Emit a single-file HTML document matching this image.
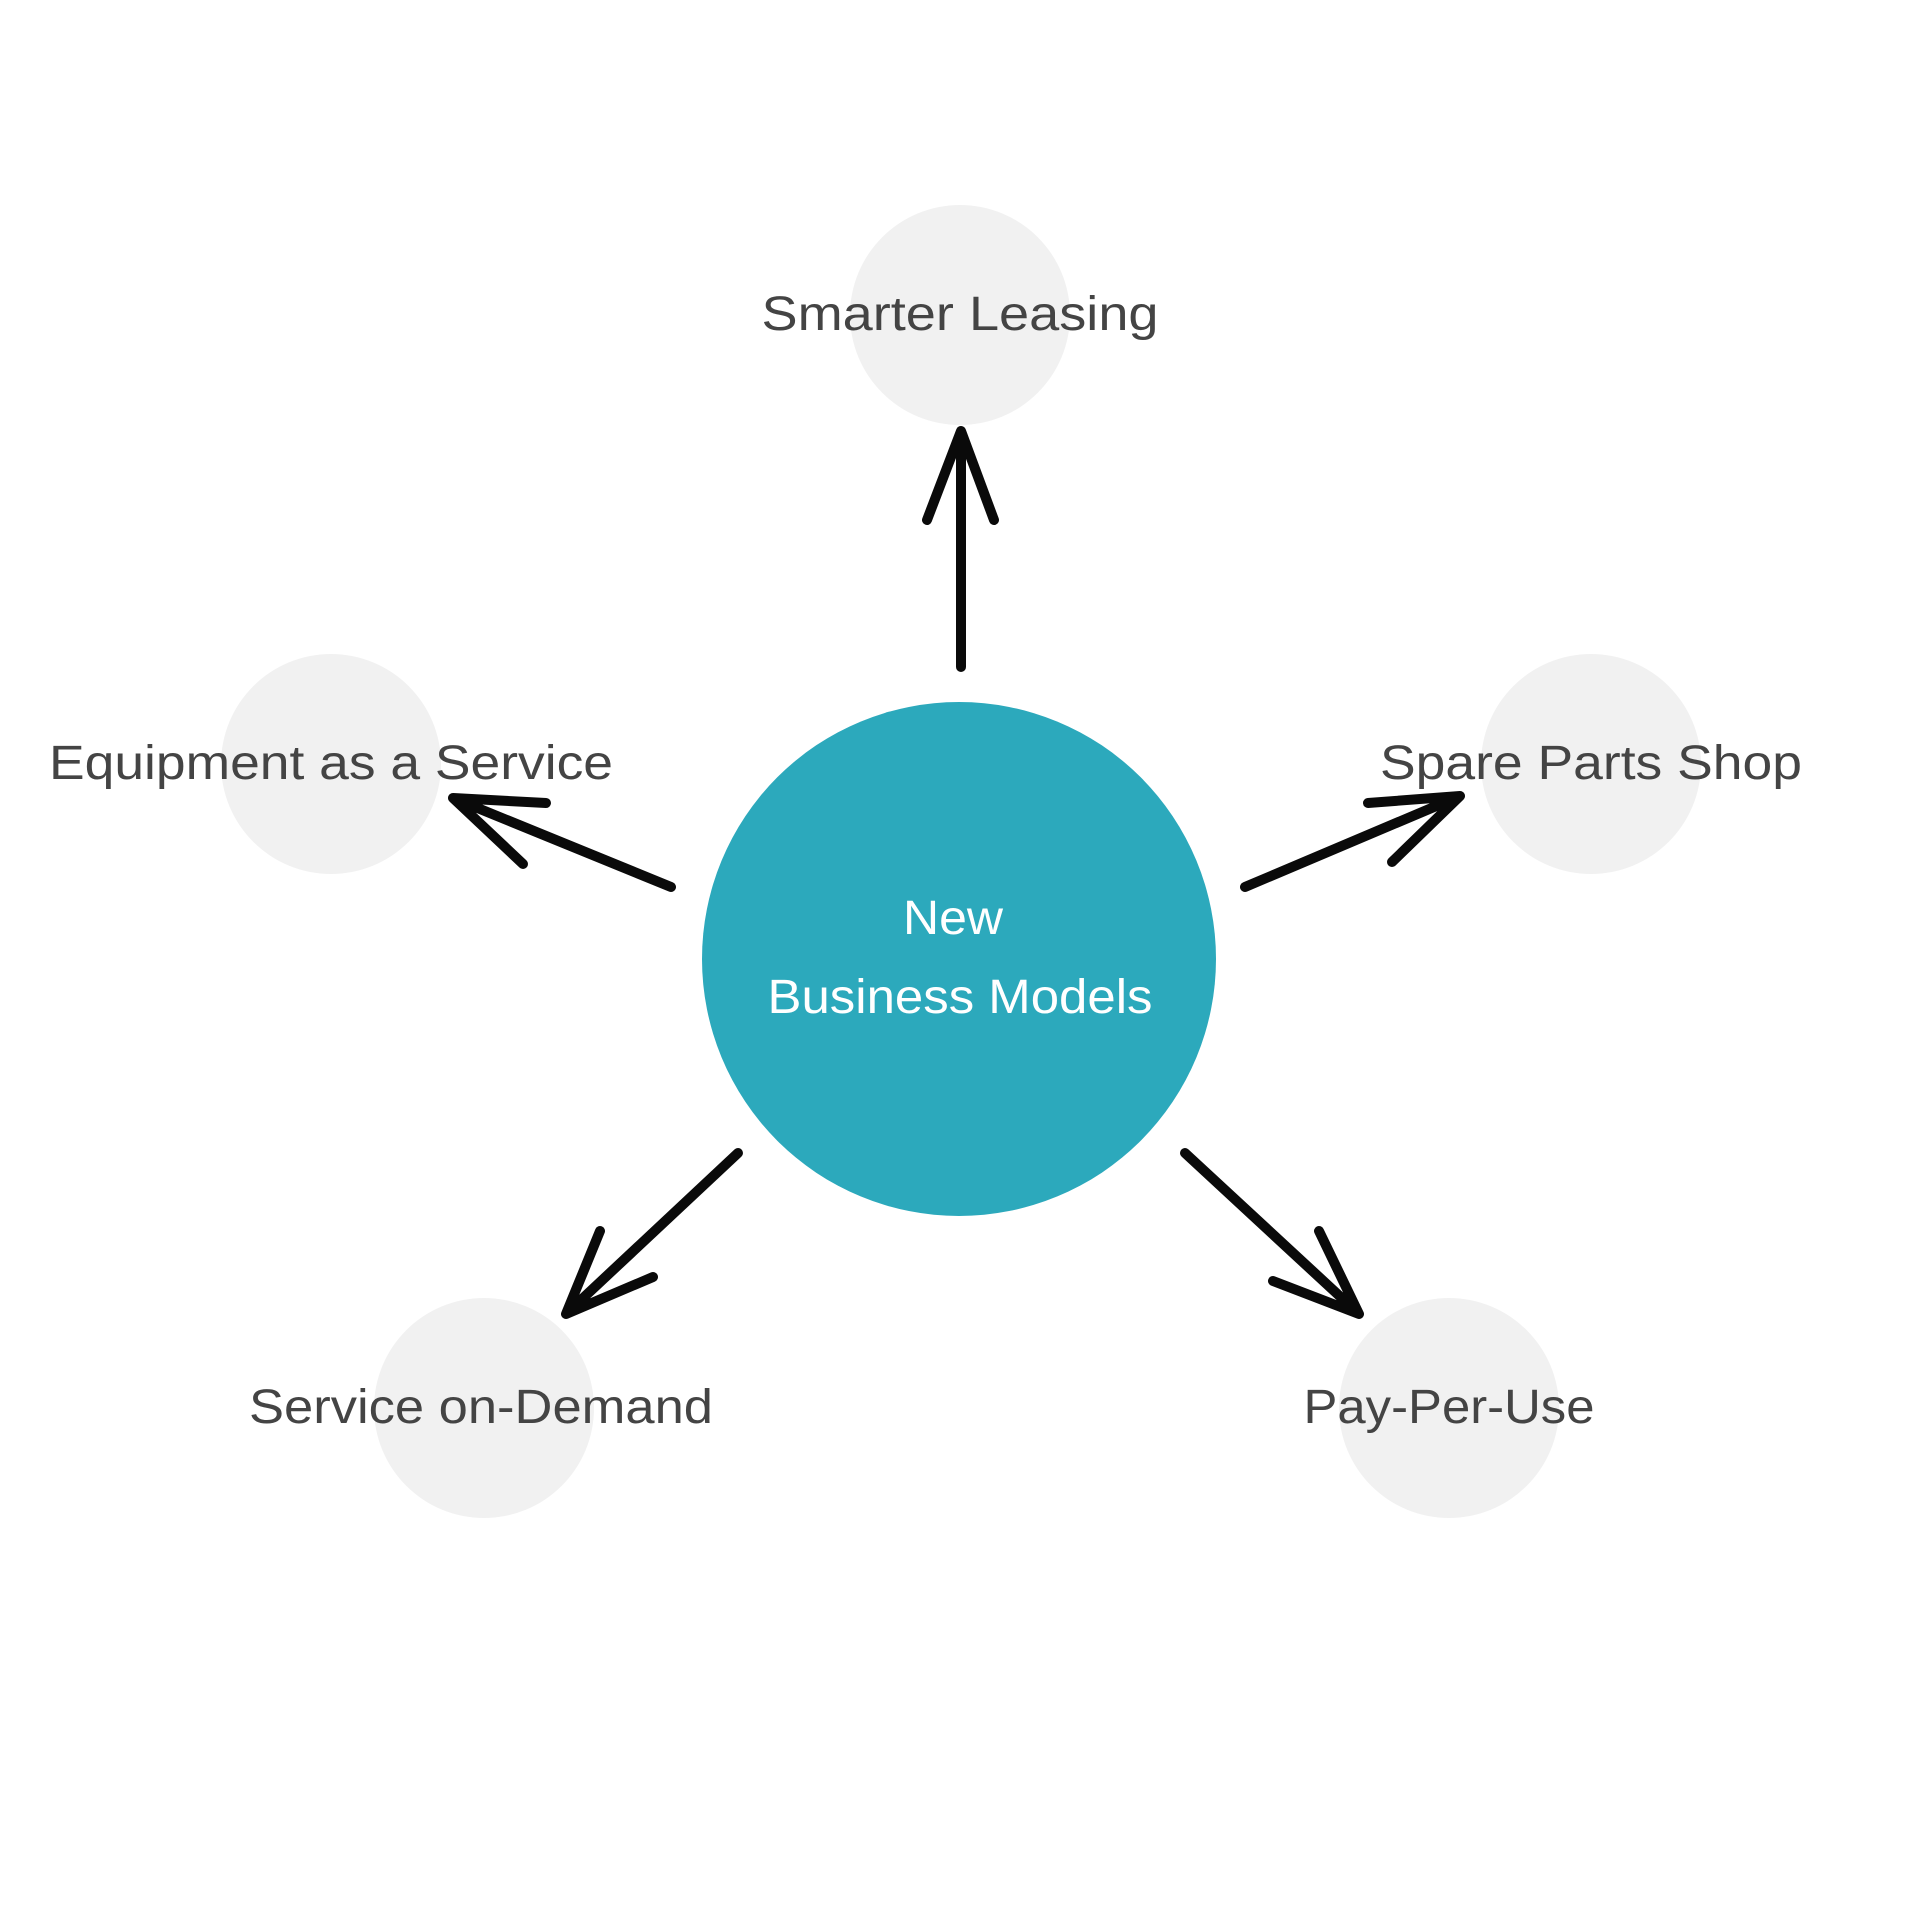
<!DOCTYPE html>
<html><head><meta charset="utf-8"><style>html,body{margin:0;padding:0;background:#fff}svg{display:block}</style></head>
<body>
<svg width="1920" height="1920" viewBox="0 0 1920 1920" xmlns="http://www.w3.org/2000/svg">
<g fill="#f1f1f1">
<circle cx="960" cy="315" r="110"/>
<circle cx="331" cy="764" r="110"/>
<circle cx="1591" cy="764" r="110"/>
<circle cx="484" cy="1408" r="110"/>
<circle cx="1449" cy="1408" r="110"/>
</g>
<circle cx="959" cy="959" r="257" fill="#2ca9bc"/>
<g fill="none" stroke="#0a0a0a" stroke-width="10" stroke-linecap="round" stroke-linejoin="round">
<path d="M961 667 L961 431 M927 520 L961 431 L994 520"/>
<path d="M671 887 L453 798 M546 803 L453 798 L523 864"/>
<path d="M1245 887 L1460 796 M1368 803 L1460 796 L1392 862"/>
<path d="M738 1153 L566 1314 M600 1231 L566 1314 L653 1277"/>
<path d="M1185 1153 L1359 1314 M1319 1231 L1359 1314 L1273 1281"/>
</g>
<g font-family="Liberation Sans, sans-serif" font-size="48" fill="#444" text-anchor="middle">
<text x="960" y="330" textLength="397" lengthAdjust="spacingAndGlyphs">Smarter Leasing</text>
<text x="331" y="779" textLength="564" lengthAdjust="spacingAndGlyphs">Equipment as a Service</text>
<text x="1591" y="779" textLength="422" lengthAdjust="spacingAndGlyphs">Spare Parts Shop</text>
<text x="481" y="1423" textLength="464" lengthAdjust="spacingAndGlyphs">Service on-Demand</text>
<text x="1449" y="1423" textLength="291" lengthAdjust="spacingAndGlyphs">Pay-Per-Use</text>
</g>
<g font-family="Liberation Sans, sans-serif" font-size="48" fill="#fff" text-anchor="middle">
<text x="953" y="934" textLength="100" lengthAdjust="spacingAndGlyphs">New</text>
<text x="960" y="1013" textLength="385" lengthAdjust="spacingAndGlyphs">Business Models</text>
</g>
</svg>
</body></html>
